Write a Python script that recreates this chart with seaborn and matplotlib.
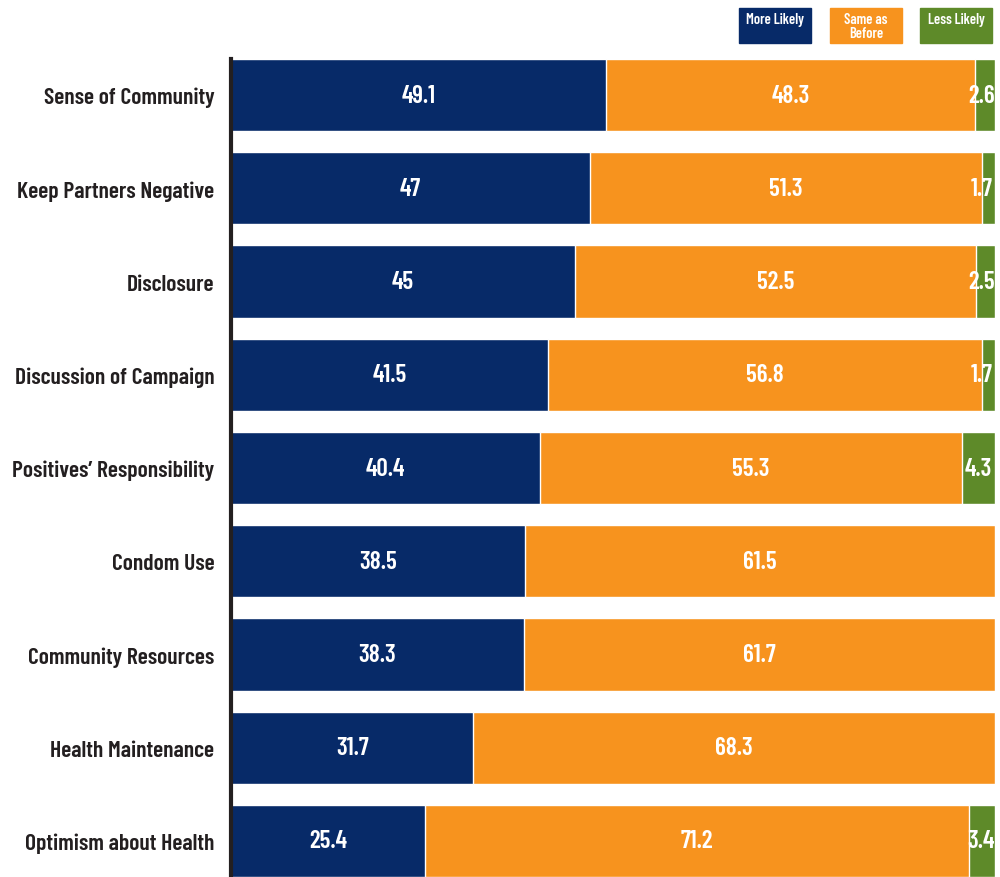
import matplotlib
matplotlib.use("Agg")
import matplotlib.pyplot as plt
from matplotlib.patches import Rectangle
import seaborn as sns
import pandas as pd

categories = [
    "Sense of Community",
    "Keep Partners Negative",
    "Disclosure",
    "Discussion of Campaign",
    "Positives\u2019 Responsibility",
    "Condom Use",
    "Community Resources",
    "Health Maintenance",
    "Optimism about Health",
]
more_likely = [49.1, 47, 45, 41.5, 40.4, 38.5, 38.3, 31.7, 25.4]
same_as_before = [48.3, 51.3, 52.5, 56.8, 55.3, 61.5, 61.7, 68.3, 71.2]
less_likely = [2.6, 1.7, 2.5, 1.7, 4.3, 0, 0, 0, 3.4]

series_names = ["More Likely", "Same as\nBefore", "Less Likely"]
colors = ["#072a68", "#f7931e", "#5e8a29"]
text_dark = "#231f20"

sns.set_theme(style="white")
plt.rcParams["font.family"] = ["Barlow Condensed", "Roboto Condensed", "DejaVu Sans"]

df = pd.DataFrame({
    "category": categories,
    "more": more_likely,
    "same": same_as_before,
    "less": less_likely,
})
df["cum_more"] = df["more"]
df["cum_same"] = df["more"] + df["same"]
df["cum_less"] = df["cum_same"] + df["less"]

fig = plt.figure(figsize=(10, 8.78), dpi=100)
ax = fig.add_axes([0.231, 0.0, 0.764, (878 - 60) / 878])

bar_w = 0.775
# layered cumulative bars: total first, then overlay shorter stacks
sns.barplot(data=df, x="cum_less", y="category", orient="h", color=colors[2],
            width=bar_w, saturation=1, ax=ax)
sns.barplot(data=df, x="cum_same", y="category", orient="h", color=colors[1],
            width=bar_w, saturation=1, ax=ax)
sns.barplot(data=df, x="cum_more", y="category", orient="h", color=colors[0],
            width=bar_w, saturation=1, ax=ax)

n = len(categories)
ax.set_xlim(0, 100)
ax.set_ylim(n - 1 + bar_w / 2, -bar_w / 2)
ax.set_xlabel("")
ax.set_ylabel("")
ax.set_xticks([])
ax.tick_params(axis="y", length=0, pad=12)
for lbl in ax.get_yticklabels():
    lbl.set_fontsize(17)
    lbl.set_fontweight(600)
    lbl.set_color(text_dark)

for side in ["top", "right", "bottom"]:
    ax.spines[side].set_visible(False)
ax.spines["left"].set_color(text_dark)
ax.spines["left"].set_linewidth(3)

# segment value labels; narrow end segments keep their label inside the bar
for i, row in df.iterrows():
    starts = [0, row["cum_more"], row["cum_same"]]
    vals = [row["more"], row["same"], row["less"]]
    for s, v in zip(starts, vals):
        if v <= 0:
            continue
        x = min(s + v / 2, 98.2)
        ax.text(x, i, f"{v:g}", ha="center", va="center",
                color="white", fontsize=18, fontweight=600)

# legend boxes across the top right
box_x = [739, 830, 920]
box_w, box_h, box_top = 72, 35, 9
for x0, name, c in zip(box_x, series_names, colors):
    fig.patches.append(Rectangle((x0 / 1000, 1 - (box_top + box_h) / 878),
                                 box_w / 1000, box_h / 878,
                                 transform=fig.transFigure, color=c))
    ty = box_top + box_h / 2 if "\n" in name else 20
    fig.text((x0 + box_w / 2) / 1000, 1 - ty / 878, name,
             ha="center", va="center", color="white", fontsize=10.5,
             fontweight=600, linespacing=1.0)

fig.savefig("out.png", dpi=100)
